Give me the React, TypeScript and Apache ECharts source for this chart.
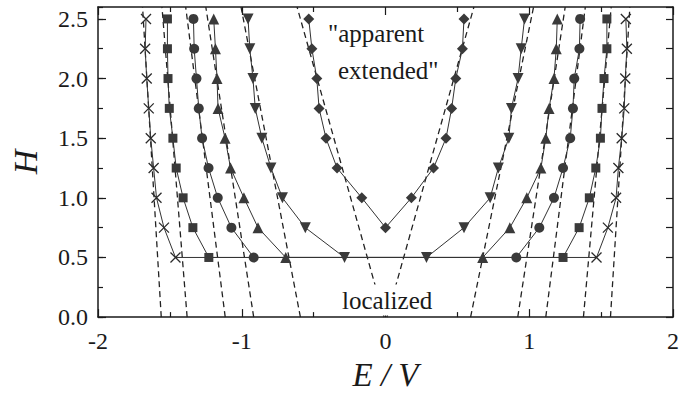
import React, { useEffect, useRef } from "react";
import * as echarts from "echarts";

// H levels of the measured points (top to bottom)
const H_LEVELS = [2.5, 2.25, 2.0, 1.75, 1.5, 1.25, 1.0, 0.75, 0.5];
const DIAMOND_LEVELS = [2.5, 2.25, 2.0, 1.75, 1.5, 1.25, 1.0];

// E/V positions of the left (negative) and right (positive) branches
const crossLeft = [-1.666, -1.672, -1.661, -1.647, -1.633, -1.613, -1.593, -1.541, -1.461];
const crossRight = [1.672, 1.679, 1.668, 1.661, 1.643, 1.62, 1.604, 1.547, 1.468];
const squareLeft = [-1.517, -1.517, -1.513, -1.504, -1.479, -1.456, -1.408, -1.34, -1.229];
const squareRight = [1.54, 1.54, 1.52, 1.506, 1.495, 1.463, 1.418, 1.347, 1.235];
const circleLeft = [-1.336, -1.331, -1.315, -1.299, -1.276, -1.231, -1.167, -1.072, -0.917];
const circleRight = [1.354, 1.349, 1.313, 1.304, 1.285, 1.235, 1.172, 1.07, 0.91];
const triangleLeft = [-1.195, -1.183, -1.172, -1.165, -1.116, -1.078, -0.985, -0.887, -0.694];
const triangleRight = [1.195, 1.188, 1.172, 1.138, 1.115, 1.081, 0.983, 0.865, 0.676];
const invTriLeft = [-0.956, -0.944, -0.922, -0.906, -0.86, -0.797, -0.717, -0.558, -0.285];
const invTriRight = [0.967, 0.944, 0.922, 0.876, 0.858, 0.785, 0.728, 0.546, 0.285];
const diamondLeft = [-0.534, -0.512, -0.478, -0.462, -0.414, -0.337, -0.165];
const diamondRight = [0.546, 0.535, 0.489, 0.46, 0.421, 0.334, 0.18];
const diamondBottom = [0, 0.75];

// dashed guide lines: E/V at H = 0 and at H = 2.6
const DASH_H = [0, 2.6];
const dashLeftBottom = [-1.56, -1.38, -1.115, -0.917, -0.592, -0.01];
const dashLeftTop = [-1.69, -1.555, -1.39, -1.25, -1.005, -0.615];
const dashRightBottom = [1.565, 1.377, 1.115, 0.92, 0.592, 0.01];
const dashRightTop = [1.7, 1.57, 1.39, 1.25, 1.03, 0.615];

const X_MIN = -2, X_MAX = 2, Y_MIN = 0, Y_MAX = 2.6;

const FONT = "Liberation Serif";
const INK = "#1a1a1a";
const MARK = "#3a3a3a";

function branch(left: number[], right: number[], levels: number[], bottom?: number[]) {
  const pts: number[][] = [];
  left.forEach((x, i) => pts.push([x, levels[i]]));
  if (bottom) pts.push(bottom);
  for (let i = right.length - 1; i >= 0; i--) pts.push([right[i], levels[i]]);
  return pts;
}

export default function App() {
  const ref = useRef<HTMLDivElement>(null);
  useEffect(() => {
    if (!ref.current) return;
    const chart = echarts.init(ref.current, undefined, { renderer: "svg" });

    const markerSeries = [
      { d: branch(crossLeft, crossRight, H_LEVELS), symbol: "path://M0,0L10,10M10,0L0,10", size: 10, cross: true },
      { d: branch(squareLeft, squareRight, H_LEVELS), symbol: "rect", size: 9 },
      { d: branch(circleLeft, circleRight, H_LEVELS), symbol: "circle", size: 10 },
      { d: branch(triangleLeft, triangleRight, H_LEVELS), symbol: "triangle", size: 11 },
      { d: branch(invTriLeft, invTriRight, H_LEVELS), symbol: "path://M0,0L10,0L5,9Z", size: 11 },
      { d: branch(diamondLeft, diamondRight, DIAMOND_LEVELS, diamondBottom), symbol: "diamond", size: 11 },
    ].map((s) => ({
      type: "line",
      data: s.d,
      symbol: s.symbol,
      symbolSize: s.size,
      showSymbol: true,
      showAllSymbol: true,
      silent: true,
      z: 4,
      lineStyle: { color: "#333", width: 1 },
      itemStyle: s.cross
        ? { color: "rgba(0,0,0,0)", borderColor: "#2a2a2a", borderWidth: 1.3 }
        : { color: MARK, borderWidth: 0 },
    }));

    const dashSeries: any[] = [];
    dashLeftBottom.forEach((b, i) => {
      dashSeries.push([[b, DASH_H[0]], [dashLeftTop[i], DASH_H[1]]]);
    });
    dashRightBottom.forEach((b, i) => {
      dashSeries.push([[b, DASH_H[0]], [dashRightTop[i], DASH_H[1]]]);
    });

    const dashed = dashSeries.map((d) => ({
      type: "line",
      data: d,
      symbol: "none",
      silent: true,
      z: 2,
      lineStyle: { color: "#222", width: 1.3, type: [6, 4] },
    }));

    const axisLine = { show: true, onZero: false, lineStyle: { color: INK, width: 1.5 } };
    const tickStyle = { color: INK, width: 1.2 };

    chart.setOption({
      animation: false,
      backgroundColor: "#ffffff",
      textStyle: { fontFamily: FONT },
      grid: { left: 92, top: 7, width: 587, height: 320, containLabel: false },
      xAxis: [
        {
          type: "value",
          position: "bottom",
          min: X_MIN,
          max: X_MAX,
          interval: 1,
          axisLine,
          axisTick: { show: true, inside: true, length: 8, lineStyle: tickStyle },
          minorTick: { show: true, splitNumber: 2, length: 5, lineStyle: tickStyle },
          splitLine: { show: false },
          axisLabel: { margin: 12, fontSize: 24, fontFamily: FONT, color: INK },
          name: "E / V",
          nameLocation: "middle",
          nameGap: 34,
          nameTextStyle: { fontStyle: "italic", fontSize: 33, fontFamily: FONT, color: INK },
        },
        {
          type: "value",
          position: "top",
          min: X_MIN,
          max: X_MAX,
          interval: 1,
          axisLine,
          axisTick: { show: true, inside: true, length: 8, lineStyle: tickStyle },
          minorTick: { show: true, splitNumber: 2, length: 5, lineStyle: tickStyle },
          splitLine: { show: false },
          axisLabel: { show: false },
        },
      ],
      yAxis: [
        {
          type: "value",
          position: "left",
          min: Y_MIN,
          max: Y_MAX,
          interval: 0.5,
          axisLine,
          axisTick: { show: true, inside: true, length: 8, lineStyle: tickStyle },
          splitLine: { show: false },
          axisLabel: {
            margin: 10,
            fontSize: 24,
            fontFamily: FONT,
            color: INK,
            showMaxLabel: false,
            formatter: (v: number) => (Math.abs(v * 2 - Math.round(v * 2)) < 1e-6 ? v.toFixed(1) : ""),
          },
          name: "H",
          nameLocation: "middle",
          nameGap: 56,
          nameRotate: 90,
          nameTextStyle: { fontStyle: "italic", fontSize: 34, fontFamily: FONT, color: INK },
        },
        {
          type: "value",
          position: "left",
          min: Y_MIN,
          max: Y_MAX,
          interval: 0.25,
          axisLine: { show: false, onZero: false },
          axisTick: { show: true, inside: true, length: 5, lineStyle: tickStyle },
          splitLine: { show: false },
          axisLabel: { show: false },
        },
        {
          type: "value",
          position: "right",
          min: Y_MIN,
          max: Y_MAX,
          interval: 0.25,
          axisLine,
          axisTick: { show: true, inside: true, length: 7, lineStyle: tickStyle },
          splitLine: { show: false },
          axisLabel: { show: false },
        },
      ],
      series: [...dashed, ...markerSeries],
      graphic: [
        {
          type: "text",
          x: 328,
          y: 33,
          z: 10,
          style: { text: '"apparent', fontSize: 25, fontFamily: FONT, fill: INK, verticalAlign: "middle", align: "left" },
        },
        {
          type: "text",
          x: 338,
          y: 70,
          z: 10,
          style: { text: 'extended"', fontSize: 25, fontFamily: FONT, fill: INK, verticalAlign: "middle", align: "left" },
        },
        {
          type: "text",
          x: 339,
          y: 300,
          z: 10,
          style: {
            text: "localized",
            fontSize: 25,
            fontFamily: FONT,
            fill: INK,
            verticalAlign: "middle",
            align: "left",
            backgroundColor: "#ffffff",
            padding: [3, 3],
          },
        },
      ],
    });
    return () => chart.dispose();
  }, []);

  return (
    <div
      ref={ref}
      style={{ position: "fixed", left: 0, top: 0, width: 682, height: 396, background: "#fff" }}
    />
  );
}
